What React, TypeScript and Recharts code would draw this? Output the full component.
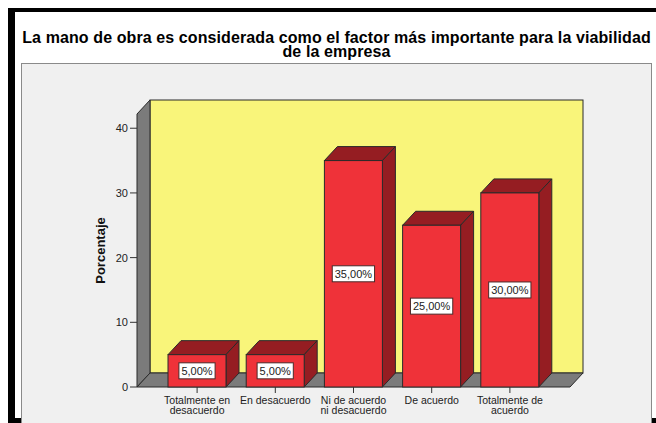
import React from 'react';
import { ComposedChart, Bar, XAxis, YAxis, LabelList, usePlotArea } from 'recharts';

const categories = [
  'Totalmente en\ndesacuerdo',
  'En desacuerdo',
  'Ni de acuerdo\nni desacuerdo',
  'De acuerdo',
  'Totalmente de\nacuerdo',
];
const porcentajes = [5, 5, 35, 25, 30];
const yTicks = [0, 10, 20, 30, 40];

const data = categories.map((categoria, i) => ({ categoria, porcentaje: porcentajes[i] }));

const FONT = '"Liberation Sans", Arial, sans-serif';
const DX = 13;
const DY = 14;
const FRONT = '#ef3239';
const DARK = '#951d22';
const EDGE = '#2a2a2a';
const WALL = '#7b7b7b';

// back wall, side wall and floor of the 3D box, taken from the plot area
const Walls = () => {
  const area = usePlotArea();
  if (!area) return null;
  const { x, y, width: w, height: h } = area;
  return (
    <g>
      <rect x={x + DX} y={y - DY} width={w} height={h} fill="#f9f57a" stroke={EDGE} />
      <polygon
        points={`${x},${y} ${x + DX},${y - DY} ${x + DX},${y + h - DY} ${x},${y + h}`}
        fill={WALL}
        stroke={EDGE}
      />
      <polygon
        points={`${x},${y + h} ${x + DX},${y + h - DY} ${x + w + DX},${y + h - DY} ${x + w},${y + h}`}
        fill={WALL}
        stroke={EDGE}
      />
    </g>
  );
};

const Bar3D = (props: any) => {
  const { x, y, width: w, height: h } = props;
  if (!h) return null;
  return (
    <g>
      <polygon
        points={`${x},${y} ${x + DX},${y - DY} ${x + w + DX},${y - DY} ${x + w},${y}`}
        fill={DARK}
        stroke={EDGE}
      />
      <polygon
        points={`${x + w},${y} ${x + w + DX},${y - DY} ${x + w + DX},${y + h - DY} ${x + w},${y + h}`}
        fill={DARK}
        stroke={EDGE}
      />
      <rect x={x} y={y} width={w} height={h} fill={FRONT} stroke={EDGE} />
    </g>
  );
};

const charW = (c: string) => (c === ',' ? 3.1 : c === '%' ? 9.8 : 6.1);

const ValueLabel = (props: any) => {
  const vb = props.viewBox ?? props;
  const { x, y, width, height } = vb;
  const value = Number(props.value);
  const text = value.toFixed(2).replace('.', ',') + '%';
  const bw = text.split('').reduce((s, c) => s + charW(c), 0) + 5;
  const cx = x + width / 2;
  const cy = y + height / 2;
  return (
    <g>
      <rect x={cx - bw / 2} y={cy - 8} width={bw} height={16} fill="#fff" stroke="#4a2a2a" />
      <text x={cx} y={cy + 4} textAnchor="middle" fontSize={11} fontFamily={FONT} fill="#222">
        {text}
      </text>
    </g>
  );
};

const CatTick = (props: any) => {
  const { x, y, payload } = props;
  const lines = String(payload.value).split('\n');
  return (
    <text x={x} y={y} textAnchor="middle" fontSize={10.5} fontFamily={FONT} fill="#222">
      {lines.map((l, i) => (
        <tspan key={i} x={x} y={y + 8.5 + i * 10}>
          {l}
        </tspan>
      ))}
    </text>
  );
};

export default function App() {
  return (
    <div
      style={{
        position: 'relative',
        width: 656,
        height: 423,
        overflow: 'hidden',
        background: '#fff',
        fontFamily: FONT,
      }}
    >
      <style>{'body{margin:0;overflow:hidden}'}</style>
      <div style={{ position: 'absolute', left: 8, top: 8, width: 700, height: 500, background: '#000' }} />
      <div style={{ position: 'absolute', left: 15, top: 12, width: 700, height: 406, background: '#fff' }} />
      <div
        style={{
          position: 'absolute',
          left: 15,
          top: 31,
          width: 643,
          textAlign: 'center',
          fontWeight: 'bold',
          fontSize: 16,
          letterSpacing: 0.1,
          lineHeight: '13.5px',
          color: '#000',
          whiteSpace: 'nowrap',
        }}
      >
        La mano de obra es considerada como el factor más importante para la viabilidad
        <br />
        de la empresa
      </div>
      <div
        style={{
          position: 'absolute',
          left: 21,
          top: 63,
          width: 629,
          height: 360,
          background: '#f0f0f0',
          border: '1px solid #8a8a8a',
        }}
      />
      <div style={{ position: 'absolute', left: 0, top: 0 }}>
        <ComposedChart
          width={656}
          height={423}
          data={data}
          margin={{ top: 114, right: 86, bottom: 6, left: 63 }}
        >
          <Walls />
          <XAxis
            dataKey="categoria"
            interval={0}
            height={30}
            padding={{ left: 21, right: 21 }}
            axisLine={false}
            tickSize={6}
            tickMargin={2}
            tickLine={{ stroke: '#333' }}
            tick={<CatTick />}
          />
          <YAxis
            type="number"
            domain={[0, 42.2]}
            ticks={yTicks}
            width={74}
            axisLine={false}
            tickSize={7}
            tickMargin={2}
            tickLine={{ stroke: '#333' }}
            tick={{ fontSize: 11, fill: '#222', fontFamily: FONT }}
            label={{
              value: 'Porcentaje',
              angle: -90,
              position: 'center',
              style: { fontSize: 13, fontWeight: 'bold', fill: '#111', fontFamily: FONT },
            }}
          />
          <Bar dataKey="porcentaje" barSize={58} shape={<Bar3D />} isAnimationActive={false}>
            <LabelList dataKey="porcentaje" content={<ValueLabel />} />
          </Bar>
        </ComposedChart>
      </div>
    </div>
  );
}
